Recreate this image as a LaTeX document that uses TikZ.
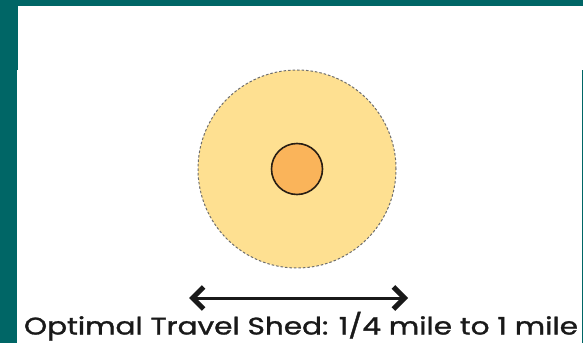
\documentclass[tikz,border=0pt]{standalone}
\usepackage{fontspec}
\setmainfont{Poppins}
\newfontfamily\capfont{Poppins}[FakeBold=1.2]
\usetikzlibrary{arrows.meta}
\definecolor{frameteal}{RGB}{0,102,102}
\definecolor{shedfill}{RGB}{254,224,145}
\definecolor{corefill}{RGB}{250,180,90}
\definecolor{coreline}{RGB}{40,30,20}
\definecolor{dashgrey}{RGB}{110,110,110}
\definecolor{textdark}{RGB}{25,25,25}
\tikzset{
  shed/.style={circle, fill=shedfill, draw=dashgrey, line width=1pt, dash pattern=on 2.5pt off 2pt, inner sep=0pt, minimum size=198pt},
  core/.style={circle, fill=corefill, draw=coreline, line width=1.6pt, inner sep=0pt, minimum size=51pt},
  barb/.tip={Straight Barb[length=11pt,width=22pt,line width=5pt]},
  span/.style={line width=3pt, {barb}-{barb}, textdark},
  caption/.style={anchor=base, text=textdark, inner sep=0pt, font=\capfont\fontsize{24}{26}\selectfont}
}
\begin{document}
\begin{tikzpicture}[x=1pt,y=1pt]
\useasboundingbox (0,0) rectangle (583,343);
\fill[frameteal] (0,0) rectangle (583,343);
\fill[white] (17.5,272.5) rectangle (583,336.7);
\fill[white] (16.7,0) rectangle (581.5,273);
\node[shed] (outer) at (297,174) {};
\node[core] (inner) at (297,174) {};
\coordinate (left) at (189,45);
\coordinate (right) at (408,45);
\draw[span] (left) -- (right);
\node[caption] (label) at (301,8.5) {\resizebox{554pt}{\height}{Optimal Travel Shed: 1/4 mile to 1 mile}};
\end{tikzpicture}
\end{document}
